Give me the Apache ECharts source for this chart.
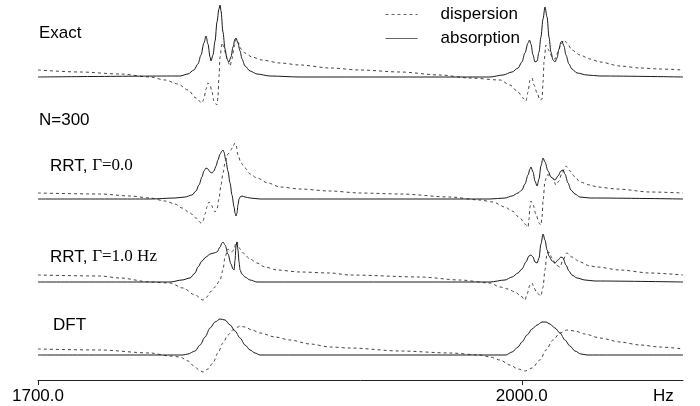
<!DOCTYPE html>
<html><head><meta charset="utf-8">
<script src="https://cdn.jsdelivr.net/npm/echarts@6/dist/echarts.min.js"></script>
<style>html,body{margin:0;padding:0;background:#fff}#c{width:700px;height:406px}</style>
</head><body><div id="c"></div>
<script>
// frequency axis (Hz)
const axisMin = 1700, axisMax = 2100;
const tickValues = [1700, 2000];
const traceNames = ['Exact', 'RRT, Γ=0.0', 'RRT, Γ=1.0 Hz', 'DFT'];
const seriesNames = ['dispersion', 'absorption'];

// [Hz, intensity (a.u.)]
const exactAbsorption = [[1700,0],[1788.1,1],[1793.0,3],[1796.7,7],[1799.2,13],[1801.1,22],[1802.9,34],[1804.2,41],[1805.4,33],[1806.7,20],[1807.3,16],[1808.5,22],[1809.8,36],[1811.0,55],[1812.2,68],[1812.9,72],[1813.5,66],[1814.7,45],[1816.0,28],[1817.2,18],[1818.4,15],[1819.7,20],[1820.9,30],[1822.2,38],[1822.8,39],[1824.0,34],[1825.3,26],[1826.5,18],[1828.4,11],[1831.5,6],[1835.8,3],[1843.9,1],[1862.5,0],[1980.3,0],[1988.4,2],[1994.0,5],[1997.7,9],[2000.1,15],[2002.0,24],[2003.9,34],[2004.8,37],[2005.7,33],[2007.0,22],[2008.2,15],[2009.5,16],[2010.7,25],[2011.9,40],[2013.2,58],[2014.4,70],[2015.7,60],[2016.9,40],[2018.1,25],[2019.4,17],[2020.6,15],[2021.9,19],[2023.1,28],[2024.3,35],[2024.9,36],[2026.2,31],[2027.4,22],[2029.3,13],[2031.1,8],[2034.3,4],[2040.5,2],[2048.5,1],[2100,0]];
const exactDispersion = [[1700,7],[1726.0,5],[1750.9,3],[1769.5,0],[1778.8,-3],[1786.8,-7],[1793.0,-13],[1798.0,-21],[1801.7,-26],[1802.9,-22],[1804.2,-12],[1805.4,-6],[1806.7,-8],[1807.9,-15],[1809.1,-24],[1811.0,-28],[1811.6,-20],[1812.2,0],[1812.9,20],[1814.1,34],[1815.3,30],[1816.6,22],[1817.8,15],[1819.1,11],[1820.3,18],[1821.6,30],[1822.8,38],[1824.0,35],[1825.9,28],[1828.4,24],[1832.7,20],[1838.9,17],[1850.1,14],[1862.5,12],[1881.1,9],[1899.7,7],[1924.5,5],[1949.3,2],[1967.9,-1],[1986.5,-3],[1992.7,-8],[1997.7,-15],[2000.8,-21],[2002.6,-24],[2003.9,-15],[2005.1,-3],[2006.4,-1],[2007.6,-8],[2009.5,-16],[2011.3,-23],[2012.6,-22],[2013.2,-5],[2013.8,15],[2015.0,32],[2016.3,28],[2017.5,24],[2018.8,20],[2020.6,18],[2022.5,25],[2024.3,33],[2026.2,37],[2028.0,34],[2031.1,27],[2036.1,22],[2042.3,18],[2048.5,15],[2060.9,11],[2073.3,9],[2085.7,8],[2100,7]];

const rrt0Absorption = [[1700,0],[1769.5,0],[1785.0,1],[1791.2,2],[1795.5,4],[1798.0,8],[1799.8,14],[1801.7,22],[1802.9,28],[1804.2,31],[1805.4,30],[1806.7,27],[1807.9,26],[1809.1,28],[1810.4,33],[1811.6,39],[1812.9,45],[1814.1,48],[1814.7,49],[1815.3,47],[1816.6,38],[1817.8,28],[1819.1,16],[1820.3,4],[1821.6,-8],[1822.2,-14],[1822.8,-17],[1823.4,-14],[1824.0,-6],[1824.7,0],[1825.3,2],[1826.5,3],[1828.4,2],[1831.5,1],[1837.7,0],[1980.3,0],[1989.6,1],[1994.0,3],[1997.7,6],[2000.1,9],[2002.0,15],[2003.9,24],[2005.1,30],[2005.7,32],[2007.0,27],[2008.2,18],[2009.5,13],[2010.7,20],[2011.9,33],[2013.2,41],[2014.4,37],[2016.3,28],[2018.1,22],[2020.6,19],[2022.5,23],[2024.3,28],[2025.6,29],[2026.8,25],[2028.7,16],[2030.5,9],[2033.0,5],[2036.1,2],[2042.3,1],[2100,0]];
const rrt0Dispersion = [[1700,6],[1738.4,5],[1757.1,3],[1769.5,1],[1778.8,-2],[1785.0,-5],[1789.3,-9],[1794.3,-14],[1798.0,-19],[1801.1,-24],[1802.3,-22],[1803.6,-15],[1804.8,-8],[1806.0,-3],[1807.3,-5],[1808.5,-9],[1809.8,-13],[1811.0,-10],[1812.2,0],[1813.5,14],[1814.7,26],[1816.0,36],[1817.8,45],[1819.7,49],[1820.9,53],[1822.2,56],[1822.8,54],[1824.0,44],[1825.9,36],[1828.4,31],[1831.5,25],[1835.8,21],[1842.6,16],[1850.1,12],[1862.5,10],[1881.1,8],[1899.7,6],[1924.5,5],[1955.5,2],[1974.1,-1],[1982.2,-3],[1989.6,-8],[1994.0,-12],[1998.9,-19],[2002.0,-25],[2003.9,-28],[2004.5,-20],[2005.1,-8],[2005.7,-2],[2007.0,-6],[2008.8,-15],[2010.7,-24],[2011.9,-26],[2012.6,-18],[2013.2,-2],[2014.4,18],[2015.7,24],[2017.5,24],[2019.4,20],[2021.2,14],[2023.1,18],[2024.9,26],[2027.4,33],[2029.9,28],[2033.0,22],[2036.1,17],[2042.3,14],[2046.7,12],[2059.1,10],[2079.5,7],[2100,6]];

const rrt1Absorption = [[1700,0],[1781.9,0],[1789.3,2],[1794.3,4],[1797.4,9],[1799.2,15],[1801.7,21],[1804.2,25],[1806.7,28],[1809.1,29],[1811.0,30],[1812.9,35],[1814.1,39],[1814.7,40],[1816.0,37],[1817.8,28],[1819.7,18],[1820.9,13],[1821.6,12],[1822.2,22],[1822.8,36],[1823.4,40],[1824.0,32],[1824.7,20],[1825.3,12],[1826.5,8],[1828.4,5],[1831.5,2],[1835.8,0],[1980.3,0],[1989.6,2],[1994.0,5],[1997.7,9],[2000.1,13],[2002.6,20],[2004.5,26],[2005.7,27],[2007.0,25],[2008.2,20],[2009.5,19],[2010.7,24],[2011.9,38],[2013.2,48],[2014.4,42],[2015.7,32],[2016.9,26],[2018.8,21],[2020.6,19],[2022.5,22],[2024.3,25],[2025.6,24],[2027.4,17],[2029.3,11],[2031.1,7],[2034.3,4],[2039.2,2],[2045.4,1],[2100,0]];
const rrt1Dispersion = [[1700,7],[1738.4,6],[1750.9,4],[1769.5,0],[1781.9,-1],[1789.9,-6],[1797.4,-13],[1802.3,-18],[1804.8,-15],[1806.7,-10],[1809.8,-5],[1812.9,2],[1814.7,12],[1816.0,25],[1817.8,33],[1819.7,30],[1821.6,32],[1822.8,40],[1823.4,40],[1824.7,34],[1827.1,29],[1831.5,23],[1835.8,19],[1840.8,15],[1848.2,12],[1862.5,10],[1881.1,9],[1893.5,7],[1936.9,5],[1961.7,2],[1980.3,-1],[1986.5,-5],[1991.5,-7],[1995.8,-10],[1999.5,-14],[2002.0,-18],[2003.3,-12],[2005.1,-3],[2006.4,-1],[2007.6,-6],[2009.5,-11],[2011.9,-14],[2013.2,-5],[2014.4,12],[2015.7,29],[2016.9,30],[2018.8,24],[2021.2,17],[2023.7,15],[2025.6,22],[2028.0,29],[2031.1,25],[2036.1,20],[2042.3,16],[2046.7,15],[2060.9,12],[2079.5,9],[2100,7]];

const dftAbsorption = [[1700,0],[1789.9,0],[1793.0,1],[1797.4,4],[1800.5,10],[1803.6,18],[1806.7,27],[1809.8,33],[1812.9,36],[1816.0,35],[1819.1,30],[1822.2,24],[1825.3,17],[1828.4,10],[1831.5,5],[1834.6,2],[1837.7,0],[1990.2,0],[1994.0,3],[1997.7,8],[2000.1,13],[2003.3,20],[2006.4,26],[2009.5,30],[2012.6,33],[2015.0,33],[2017.5,31],[2020.6,27],[2023.7,22],[2026.8,15],[2029.9,9],[2033.0,4],[2036.7,1],[2040.5,0],[2100,0]];
const dftDispersion = [[1700,6],[1738.4,5],[1769.5,2],[1781.9,-1],[1788.1,-2],[1793.0,-6],[1797.4,-12],[1799.8,-15],[1802.3,-17],[1805.4,-14],[1808.5,-8],[1811.6,2],[1814.7,12],[1817.8,20],[1820.9,25],[1824.0,28],[1825.3,29],[1828.4,28],[1832.7,25],[1837.7,22],[1847.0,18],[1856.3,15],[1868.7,11],[1881.1,8],[1893.5,7],[1924.5,4],[1955.5,2],[1974.1,0],[1980.3,-2],[1986.5,-5],[1992.7,-10],[1997.7,-14],[2002.0,-16],[2006.4,-13],[2011.3,-5],[2015.0,5],[2019.4,15],[2023.7,22],[2028.0,25],[2033.0,24],[2039.2,21],[2048.5,17],[2060.9,13],[2073.3,10],[2085.7,8],[2100,6]];

const traceData = [
  [exactDispersion, exactAbsorption],
  [rrt0Dispersion, rrt0Absorption],
  [rrt1Dispersion, rrt1Absorption],
  [dftDispersion, dftAbsorption]
];

// layout (pixels): baseline, y-range of each panel
const panels = [
  {baseline: 77, yMin: -40, yMax: 77},
  {baseline: 199, yMin: -35, yMax: 60},
  {baseline: 282, yMin: -25, yMax: 50},
  {baseline: 355, yMin: -25, yMax: 40}
];
const SANS = "'Liberation Sans', Arial, Helvetica, sans-serif";
const SERIF = "'Liberation Serif', 'Times New Roman', serif";

const grids = [], xAxes = [], yAxes = [], series = [];
panels.forEach((p, i) => {
  grids.push({left: 38, right: 17, top: p.baseline - p.yMax, height: p.yMax - p.yMin, containLabel: false});
  const last = i === panels.length - 1;
  xAxes.push({
    type: 'value', gridIndex: i, min: axisMin, max: axisMax, show: last,
    axisLine: {show: last, onZero: false, lineStyle: {color: '#222', width: 1}},
    axisTick: {show: last, customValues: tickValues, length: 5, lineStyle: {color: '#222'}},
    axisLabel: {show: last, customValues: tickValues, formatter: v => v.toFixed(1), fontSize: 17, fontFamily: SANS, color: '#000', margin: 8},
    splitLine: {show: false}
  });
  yAxes.push({type: 'value', gridIndex: i, min: p.yMin, max: p.yMax, show: false});
  const [disp, abs] = traceData[i];
  series.push({
    name: seriesNames[0], type: 'line', xAxisIndex: i, yAxisIndex: i, data: disp,
    showSymbol: false, symbol: 'none', smooth: 0.3, smoothMonotone: 'x',
    lineStyle: {color: '#444', width: 1, type: [3, 3]}, itemStyle: {color: '#444'}, z: 2, animation: false
  });
  series.push({
    name: seriesNames[1], type: 'line', xAxisIndex: i, yAxisIndex: i, data: abs,
    showSymbol: false, symbol: 'none', smooth: 0.3, smoothMonotone: 'x',
    lineStyle: {color: '#1a1a1a', width: 1}, itemStyle: {color: '#1a1a1a'}, z: 3, animation: false
  });
});

const lbl = (text, left, top, rich) => ({
  text, left, top, padding: 0,
  textStyle: {fontSize: 17, fontWeight: 'normal', fontFamily: SANS, color: '#000', lineHeight: 20, rich: rich || {}}
});
const richRRT = {
  a: {fontSize: 17, fontFamily: SANS, color: '#000', lineHeight: 20},
  b: {fontSize: 17, fontFamily: SERIF, color: '#000', lineHeight: 20}
};

const option = {
  animation: false,
  backgroundColor: '#fff',
  grid: grids, xAxis: xAxes, yAxis: yAxes, series,
  title: [
    lbl(traceNames[0], 39, 23),
    lbl('N=300', 39, 110),
    lbl('{a|RRT, }{b|Γ=0.0}', 50, 156, richRRT),
    lbl('{a|RRT, }{b|Γ=1.0 Hz}', 50, 247, richRRT),
    lbl(traceNames[3], 53, 315),
    lbl('Hz', 653, 386)
  ],
  legend: {
    data: seriesNames, orient: 'vertical', left: 380, top: 1,
    itemWidth: 32, itemHeight: 17, itemGap: 7, selectedMode: false,
    itemStyle: {opacity: 0},
    lineStyle: {width: 1, color: '#666'},
    textStyle: {fontSize: 17, fontFamily: SANS, color: '#000', lineHeight: 17, padding: [0, 0, 0, 18]}
  }
};
echarts.init(document.getElementById('c'), null, {renderer: 'canvas'}).setOption(option);
</script></body></html>
